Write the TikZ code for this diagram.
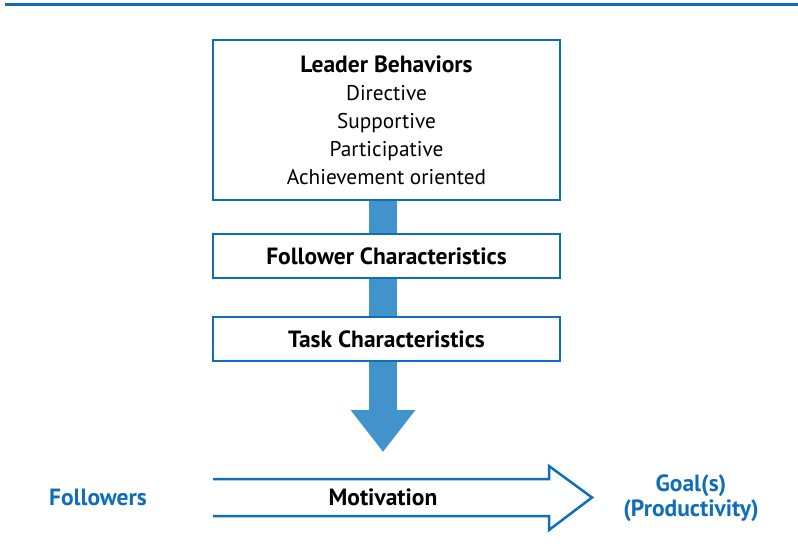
\documentclass[tikz,border=0pt]{standalone}
\usepackage{fontspec}
\setmainfont{PT Sans}
\usetikzlibrary{positioning}
\usetikzlibrary{arrows.meta}
\usetikzlibrary{backgrounds}
\definecolor{frameblue}{RGB}{16,110,184}
\definecolor{shaftblue}{RGB}{66,146,203}
\newcommand{\boldtext}{\fontsize{23.5}{28}\selectfont\bfseries}
\tikzset{
    factor/.style = {rectangle,draw=frameblue,fill=white,line width=2.5pt,minimum width=347pt,inner sep=0pt,font=\boldtext},
    behaviors/.style = {factor,minimum height=160pt,align=center,font=\fontsize{21.3}{28}\selectfont},
    outcome/.style = {text=frameblue,font=\fontsize{23.5}{25}\selectfont\bfseries,align=center},
    shaft/.style = {draw=shaftblue,line width=28pt,-{Triangle[width=62pt,length=42pt]}},
    hollow/.style = {draw=frameblue,line width=2.5pt}}
\begin{document}
\begin{tikzpicture}[x=1pt,y=-1pt]
    \useasboundingbox (0,0) rectangle (798,551);
    \draw[frameblue,line width=3pt] (5,5) -- (798,5);
    \path (386.5,120) node[behaviors] (LB) {{\boldtext Leader Behaviors}\\Directive\\Supportive\\Participative\\Achievement oriented}
     (386.5,256) node[factor,minimum height=44pt] (FC) {Follower Characteristics}
     (386.5,339) node[factor,minimum height=44pt] (TC) {Task Characteristics}
     (383,497) node[font=\boldtext] (M) {Motivation}
     (98,497) node[outcome] (F) {Followers}
     (691,498) node[outcome] (G) {Goal(s)\\(Productivity)};
    \coordinate (tip) at (383,452);
    \begin{scope}[on background layer]
     \draw[shaft] (LB.south -| tip) -- (tip);
    \end{scope}
    % open block arrow round the motivation label
    \draw[hollow] (213,479) -- (549,479) -- (549,466) -- (592,497.5) -- (549,530) -- (549,516) -- (213,516);
\end{tikzpicture}
\end{document}
